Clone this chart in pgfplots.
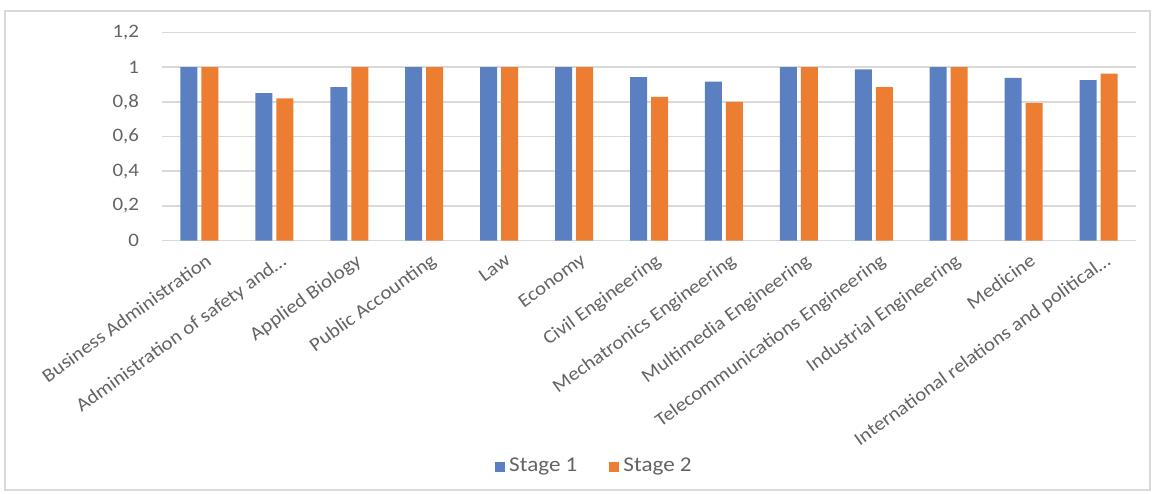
\documentclass[border=0pt]{standalone}
\usepackage{fontspec}
\setmainfont{Carlito}[FakeStretch=1.1]
\usepackage{pgfplots}
\pgfplotsset{compat=1.18}
\definecolor{sone}{RGB}{91,128,193}
\definecolor{stwo}{RGB}{237,125,49}
\definecolor{txt}{RGB}{100,100,100}
\definecolor{grd}{RGB}{217,217,217}
\begin{document}
\begin{tikzpicture}
\useasboundingbox (-81pt,-126.25pt) rectangle (497pt,120.25pt);
\fill[white] (-81pt,-126.25pt) rectangle (497pt,120.25pt);
\draw[grd, line width=0.8pt] (-78.5pt,-124.75pt) rectangle (494pt,114.75pt);
\begin{axis}[
  at={(0,0)}, anchor=south west,
  scale only axis,
  width=487pt, height=104pt,
  ybar=2pt, bar width=8.5pt,
  xmin=-0.5, xmax=12.5,
  ymin=0, ymax=1.2,
  xtick={0,...,12},
  xticklabels={Business Administration,Administration of safety and…,Applied Biology,Public Accounting,Law,Economy,Civil Engineering,Mechatronics Engineering,Multimedia Engineering,Telecommunications Engineering,Industrial Engineering,Medicine,International relations and political…},
  ytick={0,0.2,0.4,0.6,0.8,1,1.2},
  yticklabels={0,{0,2},{0,4},{0,6},{0,8},1,{1,2}},
  major tick length=0pt,
  axis line style={draw=none},
  ymajorgrids, grid style={grd, line width=0.7pt},
  xticklabel style={rotate=36, anchor=north east, font=\fontsize{9.5}{10}\selectfont, text=txt, yshift=-3pt, xshift=2pt},
  yticklabel style={font=\fontsize{9.5}{10}\selectfont, text=txt, xshift=-8pt},
  legend columns=2,
  legend style={at={(0.445,-1.087)}, anchor=center, draw=none, fill=none, font=\fontsize{10.5}{12}\selectfont, text=txt,
    /tikz/every even column/.append style={column sep=14pt}},
  legend image code/.code={\fill[#1] (0pt,-2.5pt) rectangle (5pt,2.5pt);},
]
\addplot[fill=sone, draw=none] coordinates {(0,1) (1,0.85) (2,0.885) (3,1) (4,1) (5,1) (6,0.943) (7,0.917) (8,1) (9,0.988) (10,1) (11,0.938) (12,0.925)};
\addplot[fill=stwo, draw=none] coordinates {(0,1) (1,0.82) (2,1) (3,1) (4,1) (5,1) (6,0.828) (7,0.80) (8,1) (9,0.885) (10,1) (11,0.793) (12,0.963)};
\legend{Stage 1,Stage 2}
\end{axis}
\end{tikzpicture}
\end{document}
